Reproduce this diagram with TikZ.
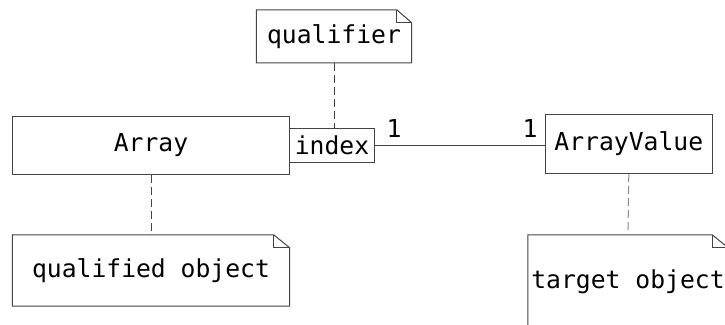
\documentclass[tikz,border=0pt]{standalone}
\usepackage{fontspec}
\setmonofont{DejaVu Sans Mono}
\definecolor{linegray}{HTML}{444444}
\definecolor{lightgray}{HTML}{8A8A8A}
\begin{document}
\begin{tikzpicture}[x=1pt,y=-1pt,
  lbl/.style={font=\ttfamily\fontsize{24.7}{30}\selectfont, text=black, inner sep=0pt},
  cls/.style={lbl, draw=linegray, line width=1pt},
  conn/.style={draw=linegray, line width=1pt},
  dconn/.style={conn, dash pattern=on 8pt off 4pt},
  ldconn/.style={draw=lightgray, line width=1pt, dash pattern=on 8pt off 4pt},
  mult/.style={font=\ttfamily\fontsize{24.7}{30}\selectfont, text=black, inner sep=0pt}
]
\useasboundingbox (0,0) rectangle (725,324);
% classes
\node[cls, minimum width=277pt, minimum height=57.6pt] (array) at (151,145.5) {Array};
\node[cls, minimum width=85pt, minimum height=34pt] (index) at (332,145.3) {index};
\node[cls, minimum width=166.5pt, minimum height=59pt] (av) at (628.8,143.8) {ArrayValue};
% notes (outline drawn below)
\node[lbl, minimum width=155pt, minimum height=52.7pt] (qual) at (334,36.3) {qualifier};
\node[lbl, minimum width=277pt, minimum height=71pt] (qobj) at (151,270.5) {qualified object};
\node[lbl, minimum width=200pt, minimum height=93pt] (tobj) at (628,281.5) {target object};
\foreach \n/\fx/\fy in {qual/15/13, qobj/16/13, tobj/16/13}{
  \draw[conn] (\n.north west) -- ([xshift=-\fx pt]\n.north east) -- ([yshift=-\fy pt]\n.north east) -- (\n.south east) -- (\n.south west) -- cycle;
  \draw[conn] ([xshift=-\fx pt]\n.north east) |- ([yshift=-\fy pt]\n.north east);
}
% connectors
\draw[conn] (index.east) -- (index.east -| av.west);
\node[mult] (m1) at (394,128) {1};
\node[mult] (m2) at (530,128) {1};
\draw[dconn] (qual.south) -- (qual.south |- index.north);
\draw[dconn] (array.south) -- (qobj.north);
\draw[ldconn] (av.south) -- (tobj.north);
\end{tikzpicture}
\end{document}
